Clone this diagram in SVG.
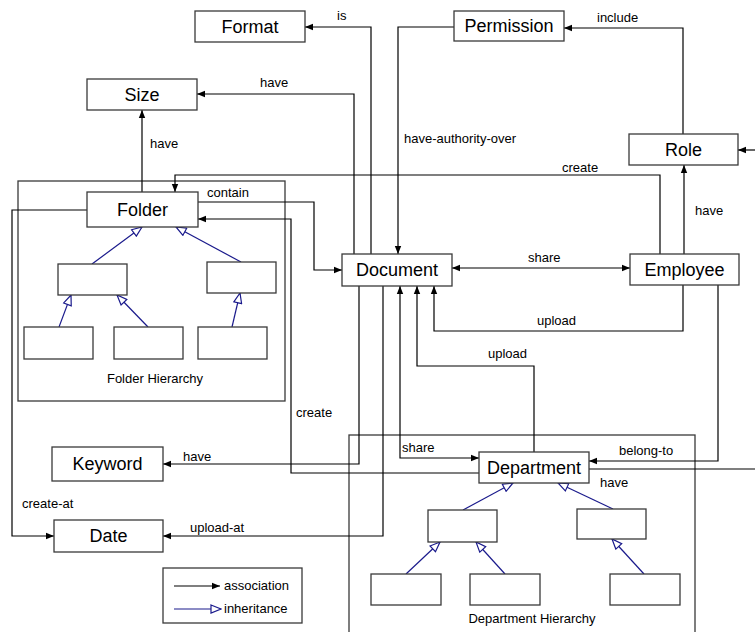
<svg xmlns="http://www.w3.org/2000/svg" width="755" height="632" viewBox="0 0 755 632">
<style>
.box{fill:#fff;stroke:#3a3a3a;stroke-width:1.3}
.grp{fill:none;stroke:#3a3a3a;stroke-width:1.3}
.t{font-family:"Liberation Sans",Arial,sans-serif;font-size:18px;fill:#000;text-anchor:middle}
.l{font-family:"Liberation Sans",Arial,sans-serif;font-size:13px;fill:#000}
.c{fill:none;stroke:#000;stroke-width:1.2}
.i{fill:none;stroke:#1a1a8c;stroke-width:1.2}
</style>
<defs>
<marker id="a" viewBox="0 0 10 10" refX="10" refY="5" markerWidth="10" markerHeight="8" orient="auto-start-reverse" markerUnits="userSpaceOnUse"><path d="M0,1 L10,5 L0,9 z" fill="#000"/></marker>
<marker id="h" viewBox="0 0 12 10" refX="11" refY="5" markerWidth="12" markerHeight="10" orient="auto" markerUnits="userSpaceOnUse"><path d="M1,1 L11,5 L1,9 z" fill="#fff" stroke="#1a1a8c" stroke-width="1.2"/></marker>
</defs>
<rect width="755" height="632" fill="#fff"/>

<g id="folder-hierarchy">
<rect class="grp" x="18" y="181" width="267" height="220"/>
<text class="l" x="155" y="383" text-anchor="middle">Folder Hierarchy</text>
</g>
<g id="department-hierarchy">
<rect class="grp" x="349" y="435" width="346" height="210"/>
<text class="l" x="532" y="623" text-anchor="middle">Department Hierarchy</text>
</g>

<g id="connectors">
<path class="c" d="M371,254 V27 H305" marker-end="url(#a)"/>
<path class="c" d="M354,254 V94 H197" marker-end="url(#a)"/>
<path class="c" d="M454,27 H398 V254" marker-end="url(#a)"/>
<path class="c" d="M683,134 V28 H564" marker-end="url(#a)"/>
<path class="c" d="M755,150 H738" marker-end="url(#a)"/>
<path class="c" d="M684,254 V165" marker-end="url(#a)"/>
<path class="c" d="M660,254 V175 H175 V192" marker-end="url(#a)"/>
<path class="c" d="M142,192 V110" marker-end="url(#a)"/>
<path class="c" d="M198,202 H314 V270 H342" marker-end="url(#a)"/>
<path class="c" d="M479,473 H291 V219 H198" marker-end="url(#a)"/>
<path class="c" d="M87,210 H12 V536 H54" marker-end="url(#a)"/>
<path class="c" d="M683,285 V331 H434 V286" marker-end="url(#a)"/>
<path class="c" d="M534,452 V366 H417 V286" marker-end="url(#a)"/>
<path class="c" d="M400,286 V458 H479" marker-start="url(#a)" marker-end="url(#a)"/>
<path class="c" d="M359,286 V464 H163" marker-end="url(#a)"/>
<path class="c" d="M383,286 V536 H163" marker-end="url(#a)"/>
<path class="c" d="M452,268 H630" marker-start="url(#a)" marker-end="url(#a)"/>
<path class="c" d="M718,285 V461 H589" marker-end="url(#a)"/>
<path class="c" d="M589,469 H755"/>
<path class="i" d="M92,264 L142,227" marker-end="url(#h)"/>
<path class="i" d="M241,262 L176,227" marker-end="url(#h)"/>
<path class="i" d="M59,327 L71,295" marker-end="url(#h)"/>
<path class="i" d="M148,327 L117,295" marker-end="url(#h)"/>
<path class="i" d="M232,327 L240,293" marker-end="url(#h)"/>
<path class="i" d="M463,510 L513,483" marker-end="url(#h)"/>
<path class="i" d="M613,509 L558,483" marker-end="url(#h)"/>
<path class="i" d="M406,574 L440,542" marker-end="url(#h)"/>
<path class="i" d="M505,574 L476,542" marker-end="url(#h)"/>
<path class="i" d="M644,574 L612,539" marker-end="url(#h)"/>
<text class="l" x="337" y="20">is</text>
<text class="l" x="260" y="87">have</text>
<text class="l" x="597" y="22">include</text>
<text class="l" x="404" y="143">have-authority-over</text>
<text class="l" x="562" y="172">create</text>
<text class="l" x="150" y="148">have</text>
<text class="l" x="207" y="197">contain</text>
<text class="l" x="695" y="215">have</text>
<text class="l" x="528" y="262">share</text>
<text class="l" x="537" y="325">upload</text>
<text class="l" x="488" y="358">upload</text>
<text class="l" x="296" y="417">create</text>
<text class="l" x="402" y="452">share</text>
<text class="l" x="619" y="455">belong-to</text>
<text class="l" x="600" y="487">have</text>
<text class="l" x="183" y="461">have</text>
<text class="l" x="22" y="508">create-at</text>
<text class="l" x="190" y="532">upload-at</text>
</g>

<g id="format"><rect class="box" x="195" y="11" width="110" height="31"/><text class="t" x="250" y="33">Format</text></g>
<g id="permission"><rect class="box" x="454" y="11" width="110" height="30"/><text class="t" x="509" y="32">Permission</text></g>
<g id="size"><rect class="box" x="87" y="79" width="110" height="31"/><text class="t" x="142" y="101">Size</text></g>
<g id="role"><rect class="box" x="629" y="134" width="109" height="31"/><text class="t" x="683.5" y="156">Role</text></g>
<g id="folder"><rect class="box" x="87" y="192" width="111" height="35"/><text class="t" x="142.5" y="216">Folder</text></g>
<g id="folder-sub1"><rect class="box" x="58" y="264" width="69" height="31"/></g>
<g id="folder-sub2"><rect class="box" x="207" y="262" width="69" height="31"/></g>
<g id="folder-sub3"><rect class="box" x="24" y="327" width="69" height="32"/></g>
<g id="folder-sub4"><rect class="box" x="114" y="327" width="69" height="32"/></g>
<g id="folder-sub5"><rect class="box" x="198" y="327" width="69" height="32"/></g>
<g id="document"><rect class="box" x="342" y="254" width="110" height="32"/><text class="t" x="397" y="276">Document</text></g>
<g id="employee"><rect class="box" x="630" y="254" width="109" height="31"/><text class="t" x="684.5" y="276">Employee</text></g>
<g id="keyword"><rect class="box" x="52" y="447" width="111" height="34"/><text class="t" x="107.5" y="470">Keyword</text></g>
<g id="date"><rect class="box" x="54" y="520" width="109" height="32"/><text class="t" x="108.5" y="542">Date</text></g>
<g id="department"><rect class="box" x="479" y="452" width="110" height="31"/><text class="t" x="534" y="474">Department</text></g>
<g id="dept-sub1"><rect class="box" x="428" y="510" width="69" height="32"/></g>
<g id="dept-sub2"><rect class="box" x="577" y="509" width="69" height="30"/></g>
<g id="dept-sub3"><rect class="box" x="371" y="574" width="70" height="31"/></g>
<g id="dept-sub4"><rect class="box" x="470" y="574" width="70" height="31"/></g>
<g id="dept-sub5"><rect class="box" x="610" y="574" width="70" height="31"/></g>

<g id="legend">
<rect class="box" x="163" y="568" width="139" height="55"/>
<path class="c" d="M174,586 H220" marker-end="url(#a)"/>
<text class="l" x="224" y="590">association</text>
<path class="i" d="M174,609 H221" marker-end="url(#h)"/>
<text class="l" x="224" y="613">inheritance</text>
</g>
</svg>
